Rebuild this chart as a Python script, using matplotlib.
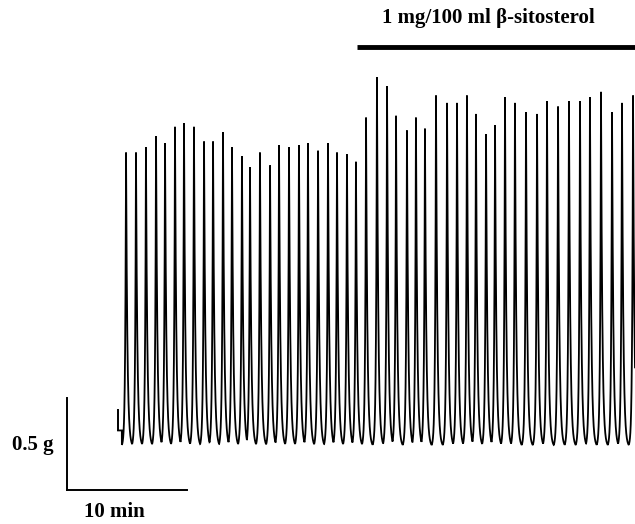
import numpy as np
import matplotlib
matplotlib.use("Agg")
import matplotlib.pyplot as plt

# Peak times (min) and peak tensions (g)
peak_times = [4.92, 5.75, 6.58, 7.42, 8.17, 9.00, 9.75, 10.58, 11.42, 12.17,
              13.00, 13.75, 14.58, 15.25, 16.08, 16.92, 17.67, 18.50, 19.33, 20.08,
              20.92, 21.75, 22.50, 23.33, 24.08, 24.92, 25.83, 26.67, 27.42, 28.33,
              29.08, 29.83, 30.75, 31.67, 32.50, 33.33, 34.08, 34.92, 35.67, 36.50,
              37.33, 38.25, 39.17, 40.00, 40.92, 41.83, 42.75, 43.58, 44.50, 45.42,
              46.25, 47.17]
peak_heights = [1.60, 1.60, 1.63, 1.69, 1.65, 1.74, 1.76, 1.74, 1.66, 1.66,
                1.71, 1.63, 1.58, 1.52, 1.60, 1.53, 1.64, 1.63, 1.64, 1.65,
                1.61, 1.65, 1.60, 1.59, 1.55, 1.79, 2.01, 1.96, 1.80, 1.72,
                1.79, 1.73, 1.91, 1.87, 1.87, 1.91, 1.81, 1.70, 1.75, 1.90,
                1.87, 1.82, 1.81, 1.88, 1.85, 1.88, 1.88, 1.90, 1.93, 1.82,
                1.87, 1.91]
trace_start = 4.25
trace_start_level = 0.09
drug_start = 24.17
drug_label = "1 mg/100 ml \u03b2-sitosterol"
scale_g = 0.5
scale_min = 10

fig = plt.figure(figsize=(6.35, 5.24), dpi=100)
ax = fig.add_axes([0, 0, 1, 1])
xmin, xmax = -67 / 12, 568 / 12
ymin, ymax = (447 - 524) / 184, 447 / 184
ax.set_xlim(xmin, xmax)
ax.set_ylim(ymin, ymax)
ax.axis("off")

# contraction waveform built from the peaks
t = np.union1d(np.linspace(trace_start, xmax, 12000), np.array(peak_times))
tr, td = 0.07, 0.11
y = np.zeros_like(t)
for tp, hp in zip(peak_times, peak_heights):
    pulse = np.where(t < tp, hp * np.exp((t - tp) / tr), hp * np.exp(-(t - tp) / td))
    y = np.maximum(y, pulse)
y = np.maximum(y, 0)
mask = t < peak_times[0] - 0.35
y[mask] = np.maximum(y[mask], trace_start_level)
ax.plot([trace_start, trace_start], [trace_start_level, 0.20], color="black", lw=1.4)
ax.plot(t, y, color="black", lw=1.3, solid_joinstyle="miter")

# drug bar
ax.plot([drug_start, xmax], [(447 - 47) / 184] * 2, color="black", lw=3.5, solid_capstyle="butt")
ax.text((488 - 67) / 12, (447 - 18) / 184, drug_label, ha="center", va="center",
        fontsize=15, fontweight="bold", family="Liberation Serif")

# scale bars
y0 = (447 - 490) / 184
ax.plot([0, 0], [y0, y0 + scale_g], color="black", lw=1.4)
ax.plot([0, scale_min], [y0, y0], color="black", lw=1.4)
ax.text((33 - 67) / 12, (447 - 445) / 184, f"{scale_g} g", ha="center", va="center",
        fontsize=15, fontweight="bold", family="Liberation Serif")
ax.text((114 - 67) / 12, (447 - 512) / 184, f"{scale_min} min", ha="center", va="center",
        fontsize=15, fontweight="bold", family="Liberation Serif")

fig.savefig("out.png", dpi=100)
